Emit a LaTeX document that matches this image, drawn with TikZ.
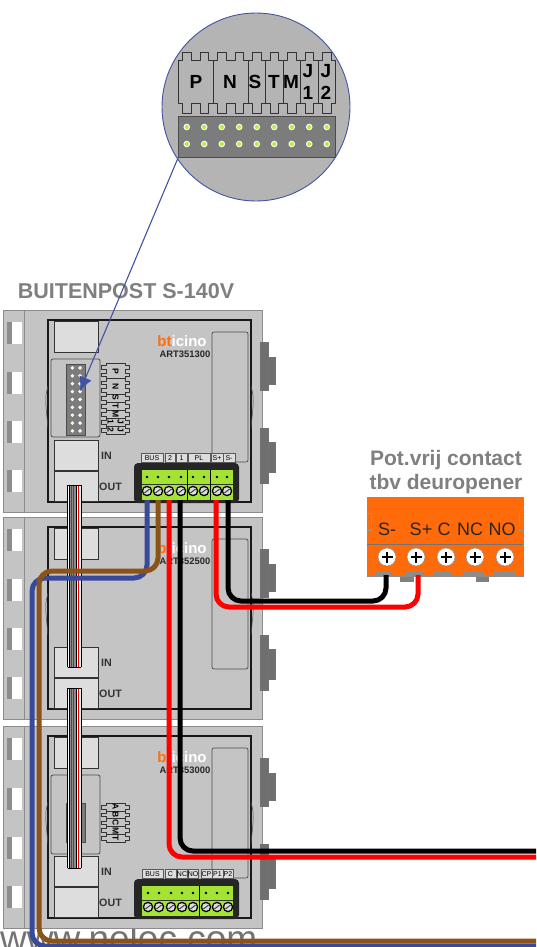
\documentclass[tikz,border=0pt]{standalone}
\usepackage{xcolor}
\usepackage{fontspec}
\setmainfont{Liberation Sans}
\setsansfont{Liberation Sans}
\usetikzlibrary{arrows.meta}
\definecolor{caseGray}{HTML}{C4C4C4}
\definecolor{caseEdge}{HTML}{8C8C8C}
\definecolor{boxGray}{HTML}{DDDDDD}
\definecolor{latchGray}{HTML}{6F6F6F}
\definecolor{titleGray}{HTML}{7F7F7F}
\definecolor{lensGray}{HTML}{B4B4B4}
\definecolor{stripGray}{HTML}{7C7C7C}
\definecolor{pinGreen}{HTML}{B6EE3C}
\definecolor{termGreen}{HTML}{A4E234}
\definecolor{leadBlue}{HTML}{4353A3}
\definecolor{wireBlue}{HTML}{3A4A9A}
\definecolor{wireBrown}{HTML}{8B5318}
\definecolor{relayOrange}{HTML}{FF6A0A}
\definecolor{logoOrange}{HTML}{FF6E0A}

% Jumper labels: #1 pins, #2 dividers, #3 position/text
\newcommand{\jumperBlock}[3]{
    \draw[jumper] (0,8)
        \foreach \i [evaluate=\i as \tabx using (\i-.5)*17.5] in {1,...,#1} {
            -- (\tabx-4.2,8) -- (\tabx-4.2,0) -- (\tabx+4.2,0) -- (\tabx+4.2,8) }
        -- ({#1*17.5},8) -- ({#1*17.5},51)
        \foreach \i [evaluate=\i as \tabx using (#1-\i+.5)*17.5] in {1,...,#1} {
            -- (\tabx+4.2,51) -- (\tabx+4.2,61) -- (\tabx-4.2,61) -- (\tabx-4.2,51) }
        -- (0,51) -- cycle;
    \foreach \x in {#2} { \draw[jumper] (\x,8) -- (\x,51); }
    \foreach \x/\txt in {#3} { \node[jumperlabel] (lab\x) at (\x,30) {\txt}; }
}
% Pin strip: #1 pins
\newcommand{\pinStrip}[1]{
    \fill[stripGray] (0,0) rectangle ({#1*17.5},41);
    \draw[black!70, line width=.6pt] (0,0) rectangle ({#1*17.5},41);
    \foreach \i [evaluate=\i as \pinx using (\i-.5)*17.5] in {1,...,#1} {
        \fill[pinGreen, draw=white, line width=.9pt] (\pinx,11) circle (2.8);
        \fill[pinGreen, draw=white, line width=.9pt] (\pinx,28) circle (2.8);
    }
}
% Case: #1 name, #2 y shift, #3 article
\newcommand{\doorCase}[3]{
    \begin{scope}[shift={(0,#2)}]
        \draw[casebox] (3,310) rectangle (262,512);
        \draw[caseEdge, line width=.8pt] (24,310) -- (24,512);
        \foreach \y in {322,372,421,470} {
            \fill[latchGray!80] (7,\y) rectangle (12,\y+22);
            \fill[white] (12,\y) rectangle (22,\y+22);
        }
        \foreach \y/\a/\b/\d in {342/357/384/390,428/442/472/483} {
            \draw[latch] (268,\a) rectangle (275,\b);
            \draw[latch] (260,\y) rectangle (268,\d);
        }
        \draw[black!90, line width=1.2pt] (48,320) rectangle (251,502);
        \draw[black!70, line width=.5pt] (48,386) .. controls (45,398) .. (48,428);
        \draw[black!70, line width=.5pt] (251,386) .. controls (254,398) .. (251,428);
        \draw[lightbox] (54,321) rectangle (98,352);
        \draw[lightbox] (54,440) rectangle (98,470);
        \draw[lightbox] (54,471) rectangle (98,501);
        \draw[black!70, line width=.7pt, rounded corners=2pt] (212,332) rectangle (248,462);
        \node[portlabel, anchor=west] (in#1) at (101,456) {IN};
        \node[portlabel, anchor=west] (out#1) at (99,487) {OUT};
        \node[logo] (logo#1) at (182,341) {\textcolor{logoOrange}{bt}\textcolor{white}{icino}};
        \node[art] (art#1) at (185,354) {#3};
    \end{scope}
}
% Terminal block: #1 y top, #2 columns, #3 group lines
\newcommand{\terminalBlock}[3]{
    \fill[black!85, rounded corners=4pt] (134,#1) rectangle (239,#1+40);
    \fill[termGreen] (142,#1+7) rectangle (233,#1+37);
    \draw[black!80, line width=.5pt] (142,#1+21) -- (233,#1+21);
    \foreach \x in {#3} { \draw[black, line width=.7pt] (\x,#1+7) -- (\x,#1+37); }
    \foreach \x in {#2} {
        \fill[black] (\x,#1+14) circle (1.3);
        \fill[black] (\x,#1+28) circle (5.3);
        \fill[boxGray] (\x,#1+28) circle (3.8);
        \draw[black!80, line width=.9pt] (\x-2.6,#1+30) -- (\x+2.6,#1+26);
    }
}
% Ribbon: #1 name, #2 top, #3 bottom
\newcommand{\flatCable}[3]{
    \coordinate (#1a) at (67.5,#2);
    \coordinate (#1b) at (81,#3);
    \fill[white] (#1a) rectangle (#1b);
    \fill[black!45] (69.5,#2) rectangle (76,#3);
    \foreach \x/\col in {67.5/black,69.5/black,71.5/black!70,73.5/black!70,76/black,81/black} {
        \draw[\col, line width=.5pt] (\x,#2) -- (\x,#3);
    }
    \draw[red, line width=.9pt] (78.5,#2) -- (78.5,#3);
    \draw[black, line width=.5pt] (67.5,#3) -- (81,#3);
    \draw[black, line width=.5pt] (67.5,#2) -- (81,#2);
}

\begin{document}
\begin{tikzpicture}[
    x=1pt, y=-1pt,
    casebox/.style={fill=caseGray, draw=caseEdge, line width=.8pt},
    lightbox/.style={fill=boxGray, draw=black!80, line width=1pt},
    latch/.style={fill=latchGray, draw=black!55, line width=.5pt},
    jumper/.style={fill=lensGray, draw=black!80, line width=.6pt, line join=round},
    jumperlabel/.style={font=\bfseries\fontsize{19}{22}\selectfont, align=center, inner sep=0pt, transform shape},
    portlabel/.style={font=\bfseries\fontsize{10.7}{12}\selectfont, text=black!80, inner sep=0pt},
    logo/.style={font=\bfseries\fontsize{15}{16}\selectfont, inner sep=0pt},
    art/.style={font=\bfseries\fontsize{9.4}{10}\selectfont, text=black!85, inner sep=0pt},
    headline/.style={font=\bfseries\fontsize{21}{23.5}\selectfont, text=titleGray, align=center, inner sep=0pt},
    termtag/.style={fill=boxGray, draw=black!65, line width=.5pt, font=\fontsize{7}{8}\selectfont, inner sep=0pt, minimum height=9pt},
    relaytag/.style={font=\fontsize{18}{20}\selectfont, text=black!85, inner sep=0pt},
    wire/.style={line width=5pt, rounded corners=13pt},
    leader/.style={leadBlue, line width=1.1pt},
]
    \useasboundingbox (0,0) rectangle (536,947);
    \clip (0,0) rectangle (536,947);

    % Site name, behind everything
    \node[anchor=base west, inner sep=0pt, text=black!55, font=\fontsize{37}{38}\selectfont] (site) at (0,951) {www.nelec.com};

    % Cases
    \doorCase{Top}{0}{ART351300}
    \doorCase{Mid}{207}{ART352500}
    \doorCase{Low}{416}{ART353000}

    % Panels and jumpers
    \draw[casebox, draw=black!70, rounded corners=2pt] (51,359) rectangle (100,437);
    \draw[casebox, draw=black!70, rounded corners=2pt] (51,775) rectangle (100,854);
    \begin{scope}[shift={(85,364)}, rotate=-90, scale=.45]
        \pinStrip{9}
    \end{scope}
    \begin{scope}[shift={(85,803)}, rotate=-90, scale=.45]
        \pinStrip{5}
    \end{scope}
    \begin{scope}[shift={(129,363)}, rotate=-90, scale=.45, jumper/.append style={fill=caseGray}]
        \jumperBlock{9}{35,70,87.5,105,122.5,140}{18/P,52/N,77/S,96/T,113/M,130/J\\1,148/J\\2}
    \end{scope}
    \begin{scope}[shift={(129,803)}, rotate=-90, scale=.45, jumper/.append style={fill=caseGray}]
        \jumperBlock{5}{17.5,35,52.5,70}{8.75/A,26.25/B,43.75/C,61.25/M,78.75/T}
    \end{scope}

    % Terminals
    \terminalBlock{463}{147,158,169,181,193,204,217,227}{187,210}
    \terminalBlock{879}{148,159,171,182,193,206,217,228}{199}
    \foreach \nm/\a/\b/\txt in {bus/141/163/BUS,two/165/175/2,one/176/187/1,pl/188/210/PL,sp/211/223/S+,sm/223/235/S-} {
        \node[termtag, minimum width=\b pt-\a pt] (tag\nm) at ({(\a+\b)/2},458) {\txt};
    }
    \foreach \nm/\a/\b/\txt in {bus/142/163/BUS,c/165/176/C,nc/177/187/NC,no/188/198/NO,cp/201/212/CP,pa/212/223/P1,pb/223/233/P2} {
        \node[termtag, minimum width=\b pt-\a pt] (low\nm) at ({(\a+\b)/2},874) {\txt};
    }

    % Lens
    \draw[fill=lensGray, draw=leadBlue, line width=.9pt] (256,107) circle (94);
    \begin{scope}[shift={(178,52)}]
        \jumperBlock{9}{35,70,87.5,105,122.5,140}{18/P,52/N,77/S,96/T,113/M,130/J\\1,148/J\\2}
    \end{scope}
    \begin{scope}[shift={(178,116)}]
        \pinStrip{9}
    \end{scope}

    % Titles
    \node[headline, font=\bfseries\fontsize{21.5}{24}\selectfont] (post) at (126,291) {BUITENPOST S-140V};
    \node[headline] (contact) at (446,472) {Pot.vrij contact\\tbv deuropener};

    % Leader
    \coordinate (lensFoot) at (178,158);
    \coordinate (stripPin) at (80,391);
    \draw[leader, -{Latex[length=14pt, width=13pt]}] (lensFoot) -- (stripPin);

    % Relay
    \fill[black!50] (400,574) rectangle (414,582);
    \fill[black!50] (476,574) rectangle (489,582);
    \draw[fill=relayOrange, draw=black!45, line width=.9pt] (367,497) rectangle (523,576);
    \draw[black!55, line width=.7pt] (367,544) -- (523,544);
    \draw[black!40, line width=.5pt] (367,513) -| (371,530) -- (367,530);
    \draw[black!40, line width=.5pt] (523,513) -| (519,530) -- (523,530);
    \foreach \a/\b in {375/392,405/424,434/452,464/483,493/515} {
        \fill[black!45] (\a,572) rectangle (\b,575);
    }
    \foreach \nm/\x/\txt in {sm/387/S-,sp/421/S+,c/444/C,nc/470/NC,no/502/NO} {
        \node[relaytag] (pole\nm) at (\x,529) {\txt};
    }
    \foreach \x in {387,416,446,475,505} {
        \fill[white, draw=black!45, line width=.5pt] (\x,557) circle (9);
        \fill[black] (\x-5.5,556) rectangle (\x+5.5,558);
        \fill[black] (\x-1,551.5) rectangle (\x+1,562.5);
    }

    % Flat cables
    \flatCable{ribA}{485}{667}
    \flatCable{ribB}{688}{868}

    % Wires
    \coordinate (busA) at (147,500);
    \coordinate (busB) at (158,500);
    \coordinate (termTwo) at (169,500);
    \coordinate (termOne) at (180,500);
    \coordinate (termSp) at (216,500);
    \coordinate (termSm) at (228,500);
    \coordinate (blueBend) at (32,578);
    \coordinate (blueEnd) at (536,946);
    \coordinate (brownBend) at (39,571);
    \coordinate (brownEnd) at (536,941);
    \coordinate (redEnd) at (536,857);
    \coordinate (blackEnd) at (536,851);
    \coordinate (contactSm) at (386,575);
    \coordinate (contactSp) at (418,575);
    \draw[wire, wireBlue] (busA) |- (blueBend) |- (blueEnd);
    \draw[wire, wireBrown] (busB) |- (brownBend) |- (brownEnd);
    \draw[wire, black] (termOne) |- (blackEnd);
    \draw[wire, red] (termTwo) |- (redEnd);
    \draw[wire, black] (termSm) |- (contactSm |- 0,601) -- (contactSm);
    \draw[wire, red] (termSp) |- (contactSp |- 0,607) -- (contactSp);
\end{tikzpicture}
\end{document}
